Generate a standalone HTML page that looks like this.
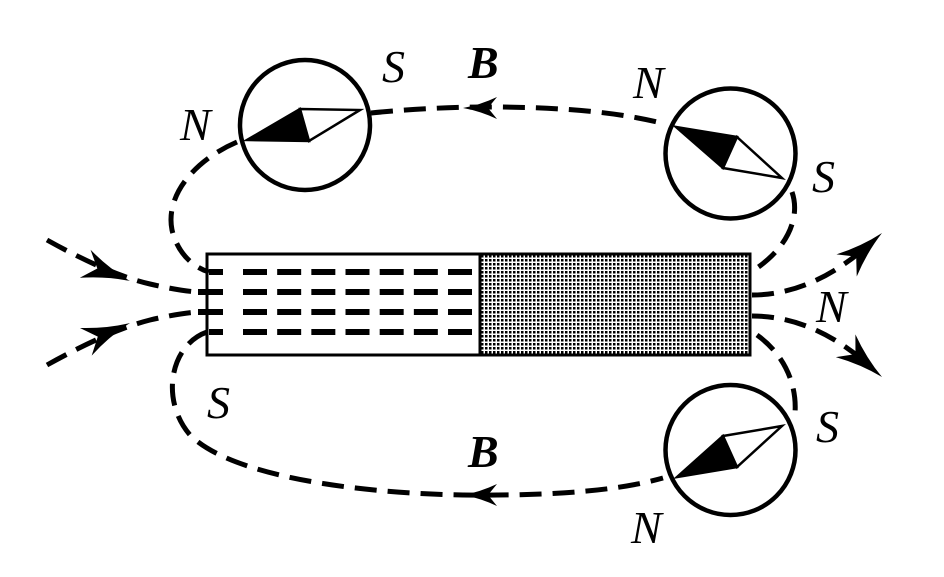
<!DOCTYPE html>
<html>
<head>
<meta charset="utf-8">
<style>
html,body{margin:0;padding:0;background:#fff;}
svg{display:block;}
.lb{font-family:"Liberation Serif","DejaVu Serif",serif;font-style:italic;font-size:46px;fill:#000;}
</style>
</head>
<body>
<svg width="944" height="577" viewBox="0 0 944 577" xmlns="http://www.w3.org/2000/svg">
<defs>
<pattern id="dots" x="480" y="254" width="4" height="4" patternUnits="userSpaceOnUse">
<rect x="0" y="0" width="4" height="4" fill="#fff"/>
<rect x="1" y="1" width="2.5" height="2.5" fill="#000"/>
</pattern>
</defs>

<!-- magnet -->
<rect x="480" y="254" width="270" height="101" fill="url(#dots)"/>
<rect x="207" y="254" width="543" height="101" fill="none" stroke="#000" stroke-width="3"/>
<line x1="480" y1="254" x2="480" y2="355" stroke="#000" stroke-width="3"/>

<g fill="none" stroke="#000" stroke-width="5" stroke-dasharray="22 11">
<!-- top-left loop into magnet -->
<path d="M237 142 C195 160,165 195,172 230 C178 255,195 268,209 272"/>
<!-- top line -->
<path d="M371 113 Q430 107,490 107 C560 107,620 112,665 124"/>
<!-- top-right compass to magnet -->
<path d="M792 192 C800 215,790 245,757 268"/>
<!-- right outgoing -->
<path d="M752 295 C790 295,830 280,872 242"/>
<path d="M752 316 C790 316,830 330,872 368"/>
<!-- bottom-right loop -->
<path d="M757 335 C785 355,797 385,795 413"/>
<!-- bottom loop -->
<path d="M207 332 C170 345,160 400,190 435 C230 475,350 493,463 495 C560 496,620 490,663 478"/>
<!-- left incoming -->
<path d="M47 240 Q110 275,150 284 Q180 291,198 292"/>
<path d="M47 365 Q110 330,150 320 Q180 313,198 312"/>
</g>

<!-- internal dashed lines -->
<g stroke="#000" stroke-width="6">
<line x1="209" y1="272" x2="223" y2="272"/>
<line x1="198" y1="292" x2="223" y2="292"/>
<line x1="198" y1="312" x2="223" y2="312"/>
<line x1="209" y1="332" x2="223" y2="332"/>
</g>
<g stroke="#000" stroke-width="6" stroke-dasharray="24 10.17">
<line x1="243" y1="272" x2="472" y2="272"/>
<line x1="243" y1="292" x2="472" y2="292"/>
<line x1="243" y1="312" x2="472" y2="312"/>
<line x1="243" y1="332" x2="472" y2="332"/>
</g>

<!-- arrowheads -->
<g fill="#000">
<path transform="translate(463,108) rotate(180)" d="M0 0 Q-17 -3 -34 -11 L-25 0 L-34 11 Q-17 3 0 0 Z"/>
<path transform="translate(463,495) rotate(180)" d="M0 0 Q-17 -3 -34 -11 L-25 0 L-34 11 Q-17 3 0 0 Z"/>
<path transform="translate(130,281) rotate(21)" d="M0 0 Q-24 -4 -48 -15 L-35 0 L-48 15 Q-24 4 0 0 Z"/>
<path transform="translate(130,323) rotate(-23)" d="M0 0 Q-24 -4 -48 -15 L-35 0 L-48 15 Q-24 4 0 0 Z"/>
<path transform="translate(882,233) rotate(-42.5)" d="M0 0 Q-24 -4 -48 -15 L-35 0 L-48 15 Q-24 4 0 0 Z"/>
<path transform="translate(882,377) rotate(40.7)" d="M0 0 Q-24 -4 -48 -15 L-35 0 L-48 15 Q-24 4 0 0 Z"/>
</g>

<!-- compasses -->
<g fill="#fff" stroke="#000" stroke-width="4.5">
<circle cx="305" cy="125" r="65"/>
<circle cx="730.5" cy="153.5" r="65"/>
<circle cx="730.5" cy="450" r="65"/>
</g>
<g stroke="#000" stroke-width="2.5" stroke-linejoin="miter">
<polygon points="247,140 300,109 309,141" fill="#000"/>
<polygon points="300,109 360,110 309,141" fill="#fff"/>
<polygon points="676,127 737,137 723,168" fill="#000"/>
<polygon points="737,137 782,178 723,168" fill="#fff"/>
<polygon points="677,477 723,436 737,467" fill="#000"/>
<polygon points="723,436 782,426 737,467" fill="#fff"/>
</g>

<!-- labels -->
<g class="lb" font-family="Liberation Serif, serif" font-style="italic" font-size="46">
<text class="lb" x="180" y="140">N</text>
<text class="lb" x="382" y="82">S</text>
<text class="lb" x="468" y="78" font-weight="bold" style="font-weight:bold">B</text>
<text class="lb" x="633" y="98">N</text>
<text class="lb" x="812" y="192">S</text>
<text class="lb" x="816" y="322">N</text>
<text class="lb" x="207" y="418">S</text>
<text class="lb" x="468" y="467" font-weight="bold" style="font-weight:bold">B</text>
<text class="lb" x="816" y="442">S</text>
<text class="lb" x="631" y="543">N</text>
</g>
</svg>
</body>
</html>
